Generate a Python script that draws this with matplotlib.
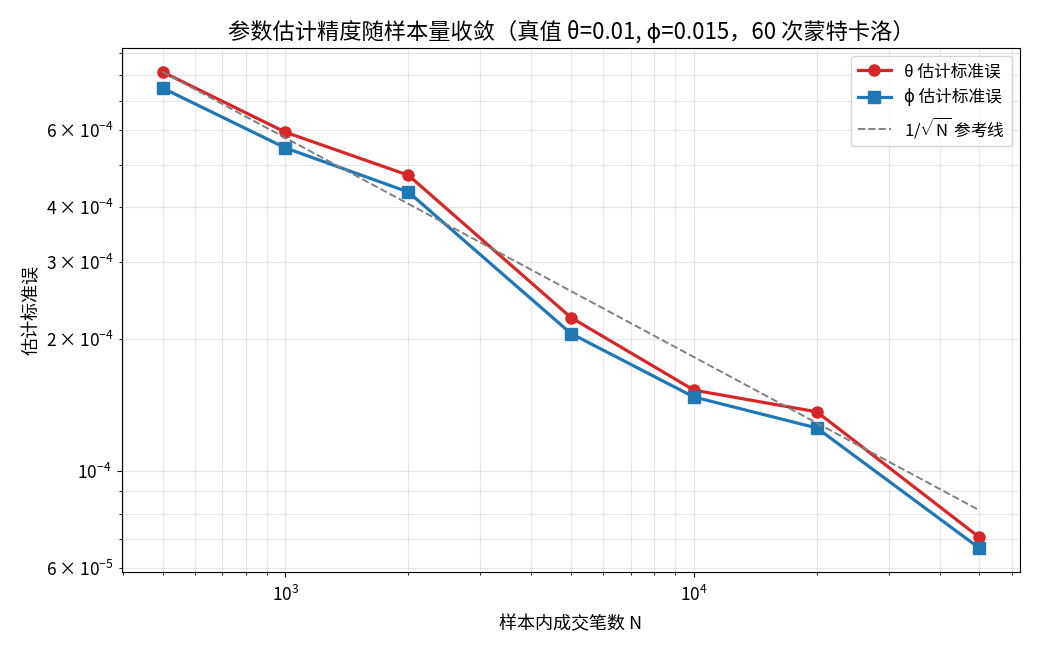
import numpy as np
import matplotlib
matplotlib.use("Agg")
from matplotlib import pyplot as plt
from matplotlib.ticker import LogFormatterSciNotation

plt.rcParams['font.family'] = ['Noto Sans CJK SC', 'DejaVu Sans']
plt.rcParams['mathtext.fontset'] = 'custom'
plt.rcParams['mathtext.rm'] = 'Noto Sans CJK SC'
plt.rcParams['mathtext.it'] = 'Noto Sans CJK SC'
plt.rcParams['mathtext.bf'] = 'Noto Sans CJK SC'
plt.rcParams['axes.unicode_minus'] = False

sample_sizes = [500, 1000, 2000, 5000, 10000, 20000, 50000]
theta_se = [8.14e-4, 5.93e-4, 4.73e-4, 2.24e-4, 1.53e-4, 1.365e-4, 7.06e-5]
phi_se = [7.48e-4, 5.46e-4, 4.33e-4, 2.06e-4, 1.476e-4, 1.254e-4, 6.67e-5]

N = np.array(sample_sizes, dtype=float)
ref = theta_se[0]*np.sqrt(N[0]/N)

fig, ax = plt.subplots(figsize=(10.4, 6.5), dpi=100)
ax.plot(N, theta_se, '-o', color='#d62728', lw=2.3, ms=8, label='θ 估计标准误')
ax.plot(N, phi_se, '-s', color='#1f77b4', lw=2.3, ms=8, label='ϕ 估计标准误')
ax.plot(N, ref, '--', color='gray', lw=1.4, label=r'$1/\sqrt{N}$ 参考线')
ax.set_xscale('log')
ax.set_yscale('log')
ax.yaxis.set_minor_formatter(LogFormatterSciNotation(labelOnlyBase=False, minor_thresholds=(2, 0.4)))
ax.grid(True, which='both', alpha=0.3)
ax.tick_params(which='both', labelsize=12.5)
ax.tick_params(axis='x', which='both', pad=6)
ax.set_xlabel('样本内成交笔数 N', fontsize=13, labelpad=7)
ax.set_ylabel('估计标准误', fontsize=13)
ax.set_title('参数估计精度随样本量收敛（真值 θ=0.01, ϕ=0.015，60 次蒙特卡洛）', fontsize=16, pad=7)
ax.legend(loc='upper right', fontsize=12)

plt.subplots_adjust(left=0.117, right=0.981, top=0.926, bottom=0.12)
plt.savefig('out.png')
